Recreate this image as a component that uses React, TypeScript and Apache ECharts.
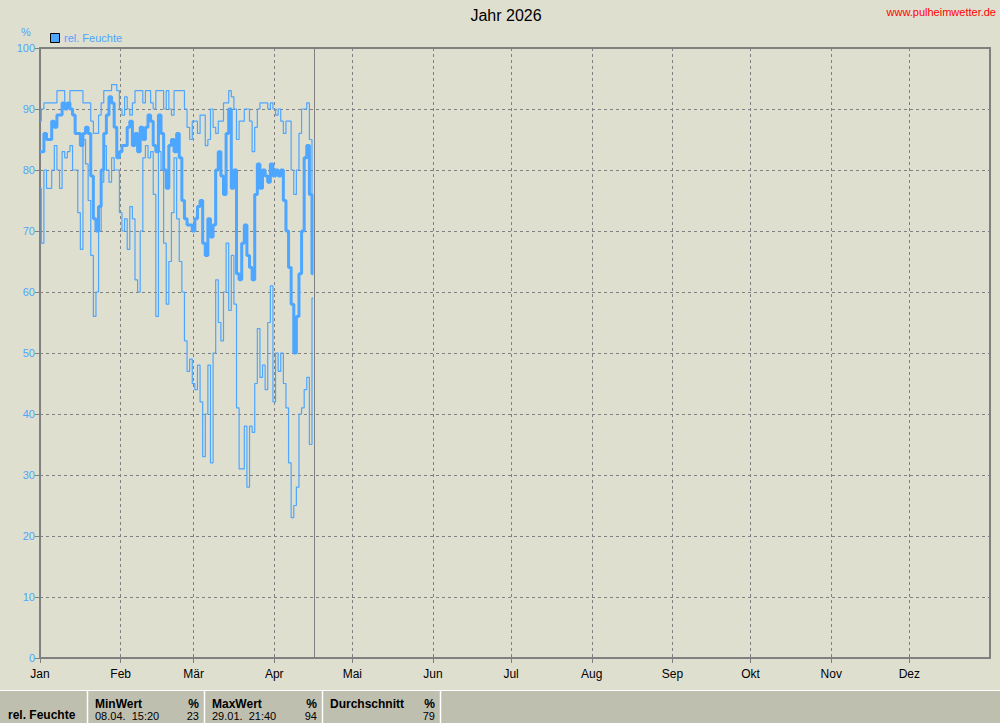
import React, { useEffect, useRef } from "react";
import * as echarts from "echarts";

// ---- axis / tick data ----
const monthNames = ["Jan", "Feb", "Mär", "Apr", "Mai", "Jun", "Jul", "Aug", "Sep", "Okt", "Nov", "Dez"];
const monthStartDays = [0, 31, 59, 90, 120, 151, 181, 212, 243, 273, 304, 334];
const daysInYear = 365;
const yMin = 0;
const yMax = 100;
const yInterval = 10;
const nowDay = 105.4;

// ---- series data: one value per day from 1 Jan (day 0) ----
const dailyMax = [
  88, 90, 91, 91, 91, 91, 91, 93, 93, 93, 91, 91, 93, 93, 93, 93, 93, 91, 91, 91, 88, 86, 86, 89, 91, 93, 93,
  93, 94, 94, 93, 90, 89, 92, 90, 89, 91, 93, 93, 93, 91, 93, 93, 91, 90, 93, 93, 93, 90, 93, 90, 89, 93,
  93, 93, 93, 90, 87, 85, 88, 88, 86, 89, 89, 84, 85, 90, 87, 86, 88, 88, 91, 91, 93, 92, 90, 85, 88, 88, 90,
  90, 88, 83, 87, 90, 91, 91, 91, 90, 91, 90, 89, 90, 88, 86, 88, 88, 80, 76, 80, 86, 90, 90, 91, 85, 70,
];
const dailyMean = [
  83, 83, 86, 85, 85, 88, 87, 89, 89, 91, 90, 91, 90, 89, 86, 86, 84, 86, 87, 86, 79, 72, 70, 74, 80, 86, 89,
  92, 91, 87, 82, 83, 84, 84, 87, 88, 84, 86, 83, 87, 85, 87, 89, 88, 84, 83, 89, 86, 80, 77, 84, 85, 83,
  86, 82, 75, 72, 71, 71, 70, 72, 74, 75, 68, 66, 72, 69, 71, 80, 83, 79, 76, 86, 90, 77, 80, 63, 62, 68, 71,
  66, 64, 62, 76, 81, 77, 80, 79, 78, 81, 79, 80, 79, 80, 75, 70, 64, 58, 50, 56, 63, 70, 82, 84, 76, 63,
];
const dailyMin = [
  77, 68, 80, 77, 77, 80, 84, 80, 77, 83, 82, 83, 84, 80, 80, 73, 67, 85, 81, 75, 66, 56, 60, 70, 78, 84, 80,
  78, 82, 80, 80, 73, 70, 72, 67, 74, 72, 62, 60, 70, 82, 84, 82, 83, 76, 56, 83, 80, 68, 58, 65, 73, 82,
  72, 65, 60, 52, 47, 49, 45, 44, 48, 42, 33, 40, 48, 32, 50, 62, 55, 52, 60, 68, 57, 66, 58, 41, 31, 31, 38,
  28, 38, 37, 45, 54, 46, 48, 44, 55, 61, 42, 50, 47, 50, 45, 41, 32, 23, 25, 28, 40, 41, 44, 46, 35, 59,
];

// ---- texts ----
const titleText = "Jahr 2026";
const siteText = "www.pulheimwetter.de";
const seriesName = "rel. Feuchte";
const unitText = "%";
const statHeaders = ["MinWert", "MaxWert", "Durchschnitt"];
const statTimes = ["08.04.  15:20", "29.01.  21:40", ""];
const statValues = ["23", "94", "79"];

const FONT = "'Liberation Sans', Arial, sans-serif";
const BLUE = "#4da6ff";
const GRAY = "#808080";

export default function App() {
  const ref = useRef<HTMLDivElement>(null);

  useEffect(() => {
    if (!ref.current) return;
    const chart = echarts.init(ref.current, null, { renderer: "svg" });

    const categories = Array.from({ length: daysInYear + 1 }, (_, i) => {
      const m = monthStartDays.indexOf(i);
      return m >= 0 ? monthNames[m] : "d" + i;
    });
    const isMonthStart = (i: number) => monthStartDays.includes(i);
    const toPairs = (arr: number[]) => arr.map((v, i) => [i, v]);

    const colLefts = [88, 205, 323];
    const colRights = [204, 322, 440];
    const tableGraphics: any[] = [
      { type: "rect", shape: { x: 0, y: 690, width: 1000, height: 33 }, style: { fill: "#bfbfaf" } },
      { type: "line", shape: { x1: 0, y1: 690.5, x2: 1000, y2: 690.5 }, style: { stroke: "#ffffff", lineWidth: 1 } },
    ];
    [87.5, 204.5, 322.5, 440.5].forEach((x) => {
      tableGraphics.push({ type: "line", shape: { x1: x, y1: 690, x2: x, y2: 723 }, style: { stroke: "#ffffff", lineWidth: 1.5 } });
    });
    tableGraphics.push({
      type: "text", x: 8, y: 715,
      style: { text: seriesName, fill: "#000", font: `bold 12px ${FONT}`, textAlign: "left", textVerticalAlign: "middle" },
    });
    statHeaders.forEach((h, k) => {
      tableGraphics.push({
        type: "text", x: colLefts[k] + 7, y: 704,
        style: { text: h, fill: "#000", font: `bold 12px ${FONT}`, textAlign: "left", textVerticalAlign: "middle" },
      });
      tableGraphics.push({
        type: "text", x: colRights[k] - 5, y: 704,
        style: { text: unitText, fill: "#000", font: `bold 12px ${FONT}`, textAlign: "right", textVerticalAlign: "middle" },
      });
      tableGraphics.push({
        type: "text", x: colLefts[k] + 7, y: 716,
        style: { text: statTimes[k], fill: "#000", font: `11px ${FONT}`, textAlign: "left", textVerticalAlign: "middle" },
      });
      tableGraphics.push({
        type: "text", x: colRights[k] - 5, y: 716,
        style: { text: statValues[k], fill: "#000", font: `11px ${FONT}`, textAlign: "right", textVerticalAlign: "middle" },
      });
    });

    chart.setOption({
      animation: false,
      backgroundColor: "#dfdfd0",
      grid: {
        left: 40, right: 10, top: 48, bottom: 65,
        show: true, borderColor: GRAY, borderWidth: 2, backgroundColor: "transparent",
      },
      xAxis: [
        {
          type: "category",
          data: categories,
          boundaryGap: false,
          axisLine: { show: true, lineStyle: { color: GRAY, width: 2 } },
          axisTick: { show: true, interval: (i: number) => isMonthStart(i), length: 5, lineStyle: { color: GRAY } },
          axisLabel: {
            interval: (i: number) => isMonthStart(i),
            color: "#000", fontSize: 12, fontFamily: FONT, margin: 10,
          },
          splitLine: {
            show: true,
            interval: (i: number) => isMonthStart(i) && i > 0,
            lineStyle: { color: GRAY, type: [3, 3], width: 1 },
          },
        },
        { type: "value", min: 0, max: daysInYear, show: false },
      ],
      yAxis: {
        type: "value",
        min: yMin, max: yMax, interval: yInterval,
        axisLine: { show: true, lineStyle: { color: GRAY, width: 2 } },
        axisTick: { show: true, length: 5, lineStyle: { color: GRAY } },
        axisLabel: { color: BLUE, fontSize: 11, fontFamily: FONT, margin: 5 },
        splitLine: { show: true, lineStyle: { color: GRAY, type: [3, 3], width: 1 } },
      },
      series: [
        {
          name: seriesName, type: "line", xAxisIndex: 1, data: toPairs(dailyMax),
          showSymbol: false, step: "middle", lineStyle: { color: BLUE, width: 1.2 }, itemStyle: { color: BLUE },
          markLine: {
            silent: true, symbol: "none", label: { show: false },
            lineStyle: { color: GRAY, width: 1, type: "solid" },
            data: [{ xAxis: nowDay }],
          },
        },
        {
          name: seriesName, type: "line", xAxisIndex: 1, data: toPairs(dailyMean),
          showSymbol: false, step: "middle", lineStyle: { color: BLUE, width: 3 }, itemStyle: { color: BLUE },
        },
        {
          name: seriesName, type: "line", xAxisIndex: 1, data: toPairs(dailyMin),
          showSymbol: false, step: "middle", lineStyle: { color: BLUE, width: 1.2 }, itemStyle: { color: BLUE },
        },
      ],
      graphic: [
        {
          type: "text", x: 506, y: 15,
          style: { text: titleText, fill: "#000", font: `16px ${FONT}`, textAlign: "center", textVerticalAlign: "middle" },
        },
        {
          type: "text", x: 996, y: 12,
          style: { text: siteText, fill: "#ff0000", font: `11px ${FONT}`, textAlign: "right", textVerticalAlign: "middle" },
        },
        {
          type: "text", x: 26, y: 32,
          style: { text: unitText, fill: BLUE, font: `11px ${FONT}`, textAlign: "center", textVerticalAlign: "middle" },
        },
        {
          type: "rect", shape: { x: 50.5, y: 33.5, width: 9, height: 9 },
          style: { fill: BLUE, stroke: "#000", lineWidth: 1 },
        },
        {
          type: "text", x: 64, y: 38,
          style: { text: seriesName, fill: BLUE, font: `11px ${FONT}`, textAlign: "left", textVerticalAlign: "middle" },
        },
        ...tableGraphics,
      ],
    });

    return () => chart.dispose();
  }, []);

  return <div ref={ref} style={{ position: "absolute", left: 0, top: 0, width: 1000, height: 723 }} />;
}
